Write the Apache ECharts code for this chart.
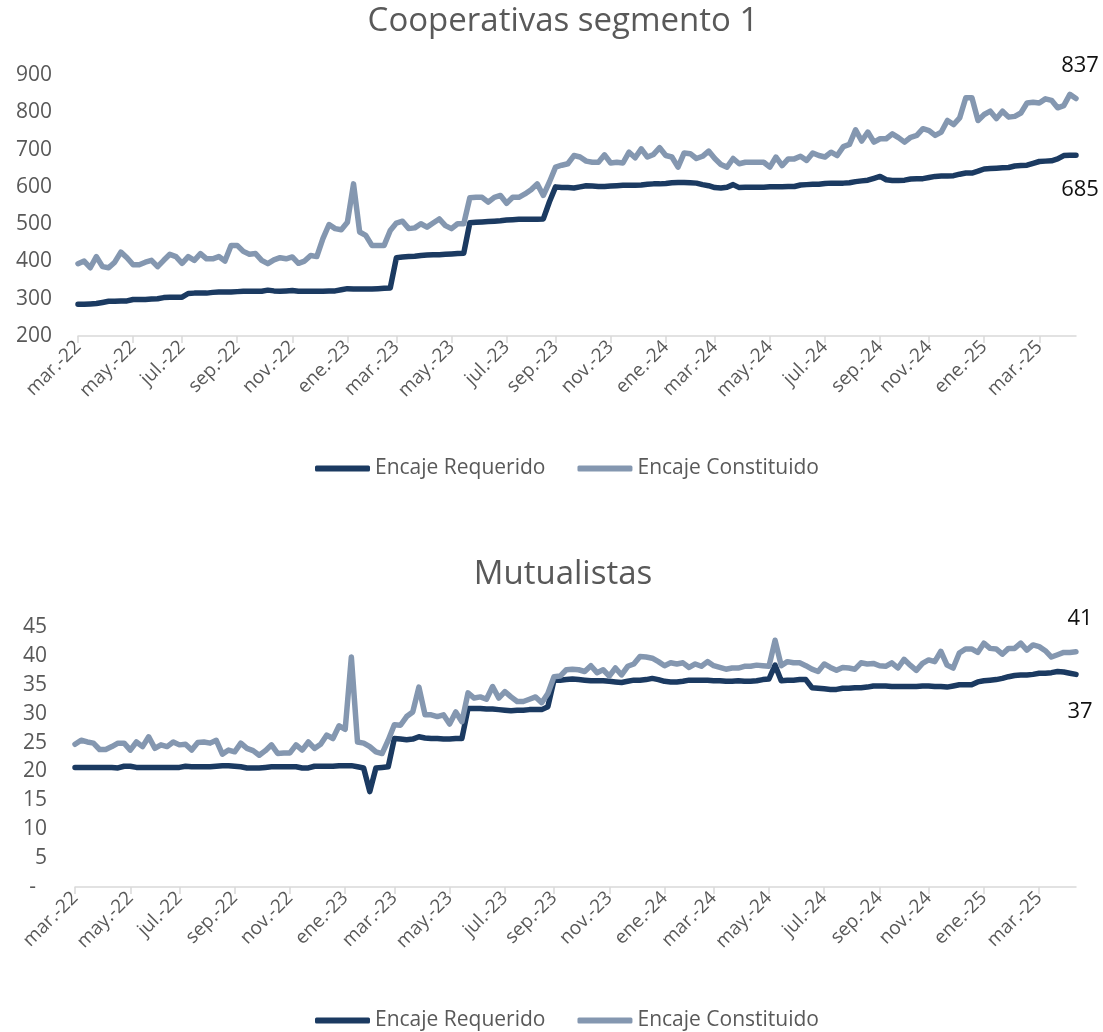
<!DOCTYPE html>
<html>
<head>
<meta charset="utf-8">
<script src="https://cdn.jsdelivr.net/npm/echarts@6/dist/echarts.min.js"></script>
<style>
  html, body { margin: 0; padding: 0; background: #fff; }
  #chart { width: 1103px; height: 1032px; }
</style>
</head>
<body>
<div id="chart"></div>
<script>
// datos semanales, desde el viernes 4 de marzo de 2022
const startDate = "2022-03-04";
const monthNames = ["ene.", "feb.", "mar.", "abr.", "may.", "jun.", "jul.", "ago.", "sep.", "oct.", "nov.", "dic."];

// Cooperativas segmento 1 (millones)
const coopRequerido = [
  285, 285, 286, 287, 290, 293, 293, 294, 294, 298,
  298, 298, 299, 300, 303, 304, 304, 304, 314, 315,
  315, 315, 317, 318, 318, 318, 319, 320, 320, 320,
  320, 323, 321, 320, 321, 322, 320, 320, 320, 320,
  320, 321, 321, 324, 327, 326, 326, 326, 326, 327,
  328, 329, 410, 412, 413, 414, 416, 417, 418, 418,
  419, 420, 421, 422, 504, 505, 506, 507, 508, 509,
  511, 512, 513, 513, 513, 513, 514, 560, 600, 598,
  598, 597, 600, 603, 602, 601, 601, 602, 603, 604,
  604, 604, 605, 607, 608, 608, 609, 611, 612, 612,
  611, 610, 606, 603, 598, 597, 599, 606, 598, 599,
  599, 599, 599, 600, 600, 600, 601, 601, 605, 606,
  607, 607, 609, 610, 610, 610, 611, 614, 616, 618,
  623, 628, 619, 617, 617, 618, 621, 622, 622, 625,
  628, 629, 629, 630, 634, 637, 637, 642, 648, 649,
  650, 651, 652, 656, 657, 658, 663, 668, 669, 670,
  675, 684, 685, 685
];
const coopConstituido = [
  394, 401, 383, 413, 386, 383, 398, 425, 410, 391,
  391, 398, 403, 386, 403, 419, 413, 395, 413, 403,
  421, 407, 407, 413, 401, 443, 443, 427, 419, 421,
  403, 394, 404, 410, 407, 412, 395, 401, 416, 413,
  461, 499, 488, 485, 505, 608, 479, 470, 443, 443,
  443, 483, 503, 508, 488, 490, 501, 492, 503, 514,
  496, 488, 501, 501, 571, 572, 572, 559, 572, 577,
  556, 572, 572, 581, 592, 608, 577, 613, 653, 658,
  662, 684, 680, 669, 666, 666, 686, 664, 666, 664,
  693, 678, 702, 680, 687, 705, 684, 680, 653, 691,
  689, 676, 682, 696, 676, 660, 653, 676, 662, 666,
  666, 666, 666, 653, 680, 657, 675, 675, 682, 671,
  691, 684, 680, 693, 684, 708, 714, 753, 723, 747,
  720, 729, 729, 742, 732, 720, 733, 738, 756, 751,
  738, 747, 778, 767, 785, 839, 839, 778, 794, 803,
  783, 803, 787, 789, 798, 825, 827, 825, 836, 832,
  812, 818, 848, 837
];

// Mutualistas (millones)
const mutRequerido = [
  20.7, 20.7, 20.7, 20.7, 20.7, 20.7, 20.7, 20.6, 20.9, 20.9,
  20.7, 20.7, 20.7, 20.7, 20.7, 20.7, 20.7, 20.7, 20.9, 20.8,
  20.8, 20.8, 20.8, 20.9, 21.0, 21.0, 20.9, 20.8, 20.6, 20.6,
  20.6, 20.7, 20.8, 20.8, 20.8, 20.8, 20.8, 20.6, 20.6, 20.9,
  20.9, 20.9, 20.9, 21.0, 21.0, 21.0, 20.8, 20.6, 16.5, 20.6,
  20.7, 20.8, 25.7, 25.6, 25.5, 25.6, 26.0, 25.8, 25.7, 25.7,
  25.6, 25.6, 25.7, 25.7, 30.9, 30.9, 30.9, 30.8, 30.8, 30.7,
  30.6, 30.5, 30.6, 30.6, 30.7, 30.7, 30.7, 31.2, 35.8, 35.8,
  35.9, 36.0, 35.9, 35.8, 35.7, 35.7, 35.7, 35.6, 35.5, 35.4,
  35.6, 35.8, 35.8, 35.9, 36.1, 35.9, 35.6, 35.5, 35.5, 35.6,
  35.8, 35.8, 35.8, 35.8, 35.7, 35.7, 35.6, 35.6, 35.7, 35.6,
  35.6, 35.7, 35.9, 36.0, 38.4, 35.7, 35.8, 35.8, 35.9, 35.9,
  34.5, 34.4, 34.3, 34.2, 34.2, 34.4, 34.4, 34.5, 34.5, 34.6,
  34.8, 34.8, 34.8, 34.7, 34.7, 34.7, 34.7, 34.7, 34.8, 34.8,
  34.7, 34.7, 34.6, 34.8, 35.0, 35.0, 35.0, 35.5, 35.7, 35.8,
  35.9, 36.1, 36.4, 36.6, 36.7, 36.7, 36.8, 37.0, 37.0, 37.1,
  37.3, 37.2, 37.0, 36.8
];
const mutConstituido = [
  24.7, 25.4, 25.1, 24.9, 23.8, 23.8, 24.3, 24.9, 24.9, 23.7,
  25.1, 24.3, 26.0, 24.0, 24.6, 24.3, 25.1, 24.6, 24.7, 23.7,
  25.0, 25.1, 24.9, 25.4, 23.0, 23.7, 23.4, 24.9, 24.0, 23.6,
  22.8, 23.6, 24.6, 23.1, 23.2, 23.2, 24.6, 23.7, 25.1, 24.0,
  24.7, 26.3, 25.7, 27.9, 27.3, 39.8, 25.1, 24.9, 24.3, 23.4,
  23.1, 25.4, 28.1, 28.0, 29.5, 30.3, 34.6, 29.8, 29.8, 29.5,
  29.8, 28.2, 30.3, 28.6, 33.6, 32.7, 32.9, 32.5, 34.7, 32.7,
  33.8, 32.9, 32.1, 32.1, 32.5, 32.9, 31.9, 33.5, 36.4, 36.5,
  37.6, 37.7, 37.6, 37.3, 38.3, 37.1, 37.6, 36.5, 37.9, 36.7,
  38.2, 38.6, 39.9, 39.8, 39.6, 39.0, 38.3, 38.8, 38.6, 38.8,
  38.0, 38.6, 38.2, 39.0, 38.3, 38.0, 37.7, 37.9, 37.9, 38.2,
  38.2, 38.4, 38.3, 38.2, 42.7, 38.3, 39.0, 38.8, 38.8, 38.3,
  37.7, 37.3, 38.6, 38.0, 37.5, 38.0, 37.9, 37.7, 38.8, 38.6,
  38.7, 38.3, 38.2, 38.8, 37.9, 39.4, 38.4, 37.5, 38.7, 39.3,
  39.0, 40.8, 38.4, 37.9, 40.5, 41.2, 41.2, 40.6, 42.2, 41.3,
  41.2, 40.3, 41.3, 41.3, 42.2, 41.0, 41.9, 41.6, 40.9, 39.8,
  40.2, 40.6, 40.6, 40.7
];

// fechas semanales (categorias)
const weeks = [];
const t0 = new Date(startDate + "T00:00:00Z").getTime();
for (let i = 0; i < coopRequerido.length; i++) {
  weeks.push(new Date(t0 + i * 7 * 86400000).toISOString().slice(0, 10));
}

const DARK = "#1B3A61";
const GRAY = "#8497B0";
const FONT = "Open Sans";

// etiqueta cada dos meses: primera semana de los meses impares
const isLabel = (idx, val) => {
  const m = +val.slice(5, 7);
  const d = +val.slice(8, 10);
  return m % 2 === 1 && d <= 7;
};
const fmtDate = (val) => monthNames[+val.slice(5, 7) - 1] + "-" + val.slice(2, 4);

const makeX = (gridIndex) => ({
  type: "category",
  gridIndex,
  data: weeks,
  boundaryGap: false,
  axisLine: { lineStyle: { color: "#D9D9D9", width: 1.5 } },
  axisTick: { show: true, interval: isLabel, length: 7, lineStyle: { color: "#D9D9D9", width: 1.5 } },
  axisLabel: {
    interval: isLabel,
    rotate: 45,
    margin: 8,
    color: "#595959",
    fontFamily: FONT,
    fontSize: 19,
    formatter: fmtDate,
  },
  splitLine: { show: false },
});

const endMark = (values, pos, dist) => ({
  symbol: "circle",
  symbolSize: 0,
  silent: true,
  label: {
    show: true,
    position: pos,
    distance: dist,
    offset: [4, 0],
    color: "#111",
    fontFamily: FONT,
    fontSize: 22,
    formatter: (p) => Math.round(p.value),
  },
  data: [{ coord: [weeks[values.length - 1], values[values.length - 1]], value: values[values.length - 1] }],
});

const makeSeries = (name, values, color, axis, pos, dist) => ({
  name,
  type: "line",
  xAxisIndex: axis,
  yAxisIndex: axis,
  data: values,
  showSymbol: false,
  symbol: "none",
  lineStyle: { color, width: 5.5, cap: "round", join: "round" },
  itemStyle: { color },
  markPoint: endMark(values, pos, dist),
});

const legendBase = {
  left: 310,
  icon: "roundRect",
  itemWidth: 55,
  itemHeight: 6,
  itemGap: 32,
  textStyle: { color: "#595959", fontFamily: FONT, fontSize: 21 },
  data: ["Encaje Requerido", "Encaje Constituido"],
};

const chart = echarts.init(document.getElementById("chart"));
chart.setOption({
  animation: false,
  backgroundColor: "#fff",
  title: [
    {
      text: "Cooperativas segmento 1",
      left: 558,
      top: 0,
      textAlign: "center",
      textStyle: { color: "#595959", fontFamily: FONT, fontSize: 33, fontWeight: "normal" },
    },
    {
      text: "Mutualistas",
      left: 558,
      top: 553,
      textAlign: "center",
      textStyle: { color: "#595959", fontFamily: FONT, fontSize: 33, fontWeight: "normal" },
    },
  ],
  legend: [
    Object.assign({}, legendBase, { top: 453 }),
    Object.assign({}, legendBase, { top: 1005 }),
  ],
  grid: [
    { left: 78, right: 27, top: 75, height: 261 },
    { left: 75, right: 27, top: 627, height: 260 },
  ],
  xAxis: [makeX(0), makeX(1)],
  yAxis: [
    {
      type: "value",
      gridIndex: 0,
      min: 200,
      max: 900,
      interval: 100,
      axisLine: { show: false },
      axisTick: { show: false },
      splitLine: { show: false },
      axisLabel: { color: "#595959", fontFamily: FONT, fontSize: 21, margin: 26 },
    },
    {
      type: "value",
      gridIndex: 1,
      min: 0,
      max: 45,
      interval: 5,
      axisLine: { show: false },
      axisTick: { show: false },
      splitLine: { show: false },
      axisLabel: {
        color: "#595959",
        fontFamily: FONT,
        fontSize: 21,
        margin: 28,
        formatter: (v) => (v === 0 ? "{d|-}" : v),
        rich: { d: { color: "#595959", fontFamily: FONT, fontSize: 21, padding: [0, 11, 0, 0] } },
      },
    },
  ],
  series: [
    makeSeries("Encaje Requerido", coopRequerido, DARK, 0, "bottom", 24),
    makeSeries("Encaje Constituido", coopConstituido, GRAY, 0, "top", 22),
    makeSeries("Encaje Requerido", mutRequerido, DARK, 1, "bottom", 26),
    makeSeries("Encaje Constituido", mutConstituido, GRAY, 1, "top", 22),
  ],
});
window.addEventListener("resize", () => chart.resize());
</script>
</body>
</html>
